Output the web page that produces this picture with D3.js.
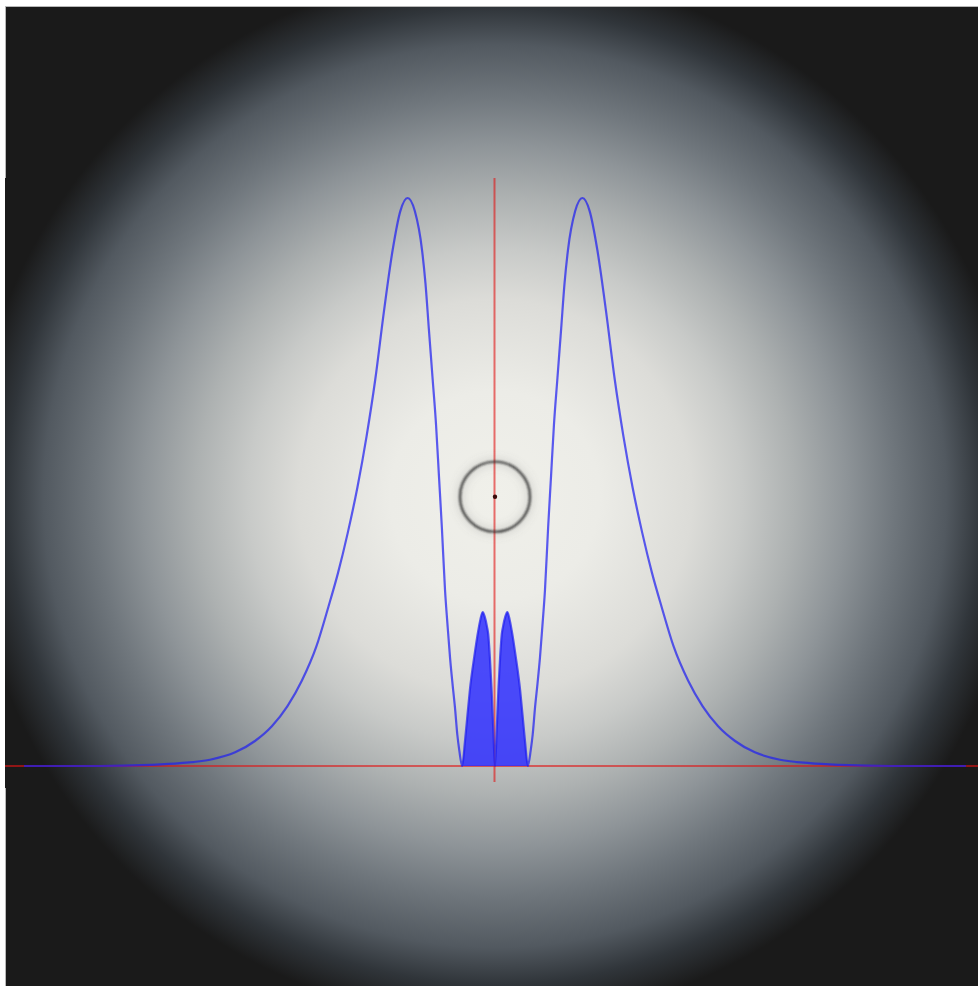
<!DOCTYPE html>
<html>
<head>
<meta charset="utf-8">
<script src="https://cdn.jsdelivr.net/npm/d3@7/dist/d3.min.js"></script>
<style>
  html, body { margin: 0; padding: 0; background: #ffffff; overflow: hidden; }
  svg { display: block; }
</style>
</head>
<body>
<script>
// Probability density sampled along x: outer lobe, inner lobes, outer lobe
const xValues = [
  -9.75, -8.2, -7.14, -6.52, -5.9, -5.38, -4.97, -4.62, -4.3, -4.0, -3.7, -3.45,
  -3.25, -3.05, -2.85, -2.66, -2.48, -2.3, -2.12, -1.96, -1.81,
  -1.66, -1.51, -1.44, -1.37, -1.29, -1.22, -1.16, -1.1, -1.035, -0.98, -0.93,
  -0.88, -0.83, -0.78, -0.74, -0.68,
  -0.62, -0.57, -0.52, -0.43, -0.345, -0.3, -0.255, -0.21, -0.165, -0.14, -0.105,
  -0.07, -0.035, 0,
  0.035, 0.07, 0.105, 0.14, 0.165, 0.21, 0.255, 0.3, 0.345, 0.43, 0.52, 0.57, 0.62,
  0.68, 0.74, 0.78, 0.83, 0.88, 0.93, 0.98, 1.035, 1.1, 1.16, 1.22, 1.29, 1.37,
  1.44, 1.51, 1.66,
  1.81, 1.96, 2.12, 2.3, 2.48, 2.66, 2.85, 3.05, 3.25, 3.45, 3.7, 4.0, 4.3, 4.62,
  4.97, 5.38, 5.9, 6.52, 7.14, 8.2, 9.75
];
const densityValues = [
  0, 0, 0.002, 0.005, 0.011, 0.024, 0.044, 0.07, 0.105, 0.15, 0.21, 0.28,
  0.34, 0.41, 0.49, 0.58, 0.68, 0.8, 0.908, 0.977, 1.0,
  0.977, 0.908, 0.85, 0.77, 0.68, 0.6, 0.51, 0.42, 0.31, 0.245, 0.19,
  0.145, 0.104, 0.055, 0.028, 0,
  0.045, 0.09, 0.134, 0.192, 0.239, 0.259, 0.271, 0.262, 0.245, 0.232, 0.19,
  0.134, 0.063, 0,
  0.063, 0.134, 0.19, 0.232, 0.245, 0.262, 0.271, 0.259, 0.239, 0.192, 0.134, 0.09, 0.045,
  0, 0.028, 0.055, 0.104, 0.145, 0.19, 0.245, 0.31, 0.42, 0.51, 0.6, 0.68, 0.77,
  0.85, 0.908, 0.977,
  1.0, 0.977, 0.908, 0.8, 0.68, 0.58, 0.49, 0.41, 0.34, 0.28, 0.21, 0.15, 0.105, 0.07,
  0.044, 0.024, 0.011, 0.005, 0.002, 0, 0
];
// Inner region (between the inner nodes) that is shaded
const innerNodes = [-0.68, 0.68];
// Probe ring position in data units
const probe = { x: 0, y: 0.474 };
const xDomain = [-10, 10];
const yDomain = [0, 1];
const yAxisExtent = [-0.028, 1.035];

const W = 978, H = 986;
const svg = d3.select("body").append("svg").attr("width", W).attr("height", H);
const defs = svg.append("defs");

const grad = defs.append("radialGradient")
  .attr("id", "bg").attr("gradientUnits", "userSpaceOnUse")
  .attr("cx", 495).attr("cy", 496).attr("r", 525);
[[0, "#f0f0ea"], [0.2, "#ecece7"], [0.375, "#dcdcd8"], [0.47, "#c8cac8"], [0.57, "#adb1b1"],
 [0.67, "#8e9498"], [0.76, "#70777d"], [0.86, "#525960"], [0.93, "#30353a"], [1, "#1a1a1a"]]
  .forEach(([o, c]) => grad.append("stop").attr("offset", o).attr("stop-color", c));

const soft = defs.append("filter").attr("id", "soft")
  .attr("x", "-50%").attr("y", "-50%").attr("width", "200%").attr("height", "200%");
soft.append("feGaussianBlur").attr("stdDeviation", 1.0);
const halo = defs.append("filter").attr("id", "halo")
  .attr("x", "-50%").attr("y", "-50%").attr("width", "200%").attr("height", "200%");
halo.append("feGaussianBlur").attr("stdDeviation", 4);

// Frame: light border on top/left around the gradient panel
svg.append("rect").attr("x", 0).attr("y", 0).attr("width", W).attr("height", H).attr("fill", "#ffffff");
svg.append("rect").attr("x", 5).attr("y", 6).attr("width", W).attr("height", H).attr("fill", "#b8b8b8");
svg.append("rect").attr("x", 6).attr("y", 7).attr("width", W).attr("height", H).attr("fill", "url(#bg)");
svg.append("rect").attr("x", 5).attr("y", 178).attr("width", 2).attr("height", 610).attr("fill", "url(#bg)");

const x = d3.scaleLinear().domain(xDomain).range([12, 978]);
const y = d3.scaleLinear().domain(yDomain).range([766, 198]);

const pts = xValues.map((v, i) => ({ x: v, y: densityValues[i] }));

// Axes
const axisColor = "rgba(225,20,20,0.6)";
svg.append("line")
  .attr("x1", 5).attr("x2", W).attr("y1", y(0)).attr("y2", y(0))
  .attr("stroke", axisColor).attr("stroke-width", 2);
svg.append("line")
  .attr("x1", x(0) - 0.5).attr("x2", x(0) - 0.5)
  .attr("y1", y(yAxisExtent[1])).attr("y2", y(yAxisExtent[0]))
  .attr("stroke", axisColor).attr("stroke-width", 2);

// Shaded inner lobes
const inner = pts.filter(p => p.x >= innerNodes[0] && p.x <= innerNodes[1]);
svg.append("path")
  .datum(inner)
  .attr("d", d3.area().x(d => x(d.x)).y0(y(0)).y1(d => y(d.y)).curve(d3.curveMonotoneX))
  .attr("fill", "#2f2fff").attr("fill-opacity", 0.85);

// Density curve
svg.append("path")
  .datum(pts)
  .attr("d", d3.line().x(d => x(d.x)).y(d => y(d.y)).curve(d3.curveMonotoneX))
  .attr("fill", "none").attr("stroke", "#2020f0").attr("stroke-opacity", 0.72)
  .attr("stroke-width", 2.2).attr("stroke-linejoin", "round");

// Probe ring with soft halo
const cx = x(probe.x), cy = y(probe.y);
svg.append("circle").attr("cx", cx).attr("cy", cy).attr("r", 35)
  .attr("fill", "none").attr("stroke", "#777").attr("stroke-opacity", 0.22)
  .attr("stroke-width", 7).attr("filter", "url(#halo)");
svg.append("circle").attr("cx", cx).attr("cy", cy).attr("r", 35)
  .attr("fill", "none").attr("stroke", "#222").attr("stroke-width", 2.2)
  .attr("stroke-opacity", 0.85).attr("filter", "url(#soft)");
svg.append("circle").attr("cx", cx).attr("cy", cy).attr("r", 2.2)
  .attr("fill", "#3a0a0a");
</script>
</body>
</html>
